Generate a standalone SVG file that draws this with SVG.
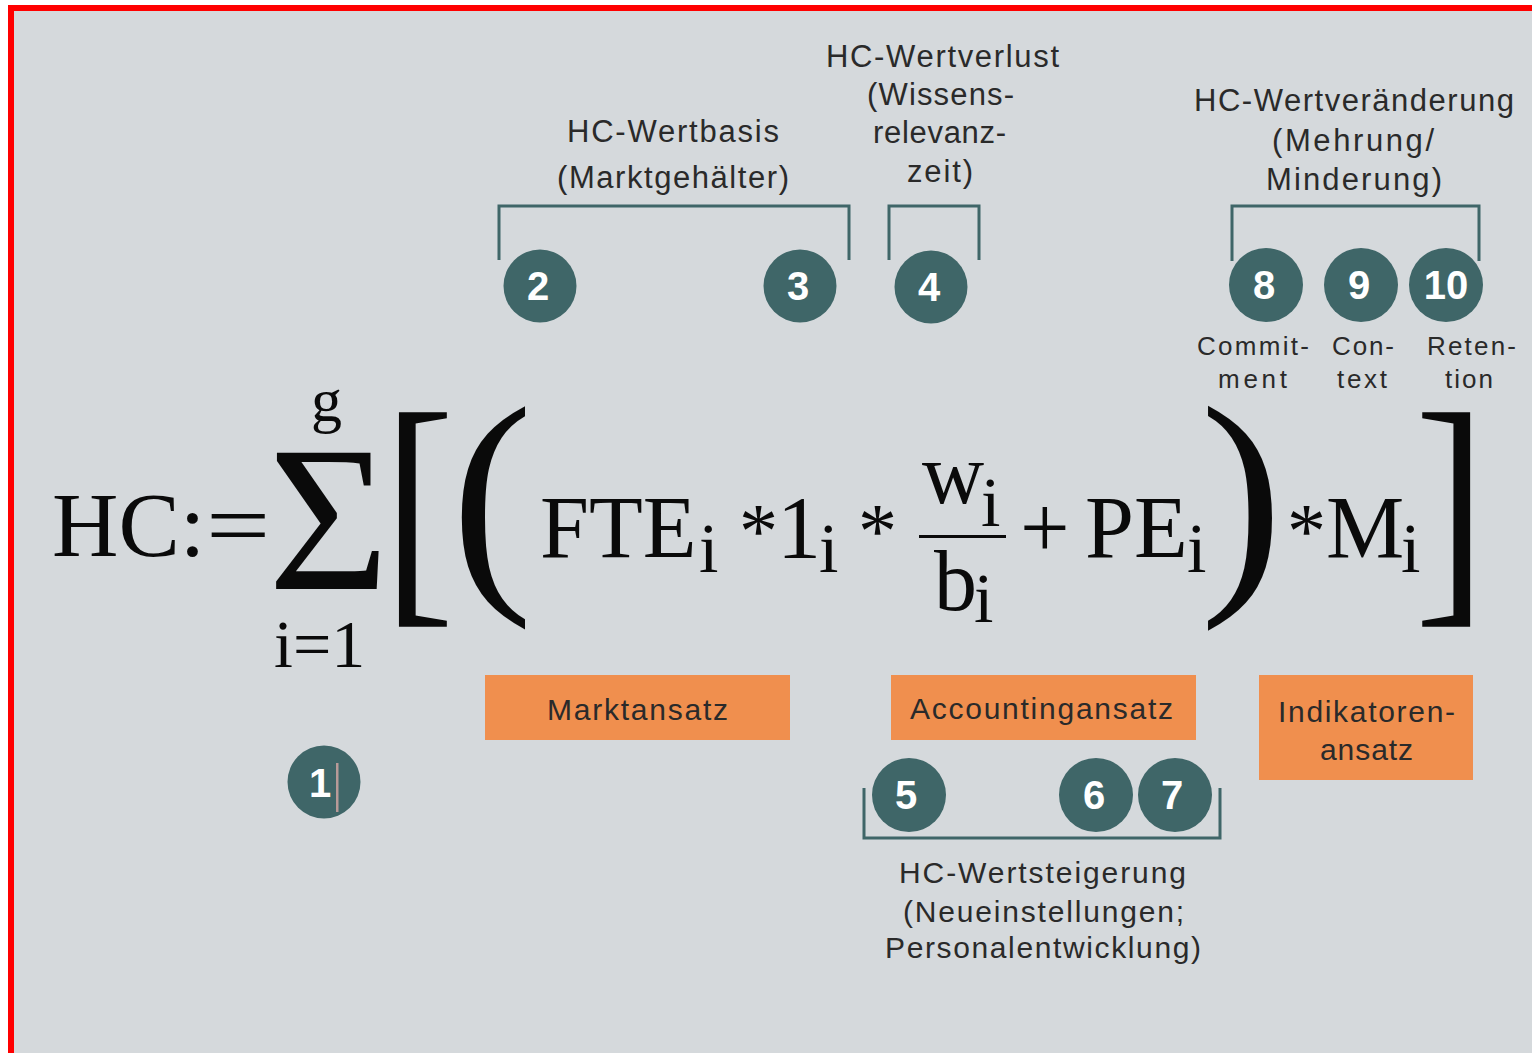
<svg xmlns="http://www.w3.org/2000/svg" width="1532" height="1053" viewBox="0 0 1532 1053">
<style>
.bg{fill:#d5d9dc}
.br{fill:none;stroke:#3f6668;stroke-width:3}
.dot{fill:#3f6668}
.num{font-family:"Liberation Sans",Arial,sans-serif;font-weight:bold;font-size:40px;fill:#ffffff;text-anchor:middle}
.lab{font-family:"Liberation Sans",Arial,sans-serif;font-size:31px;fill:#2a2a2a}
.sm{font-size:26px}
.md{font-size:30px}
.box{fill:#f08f4e}
.m{font-family:"Liberation Serif","Times New Roman",serif;fill:#0a0a0a}
.m88{font-size:88px}
.m86{font-size:86px}
.ast{font-size:78px}
.sub{font-size:70px}
</style>
<rect x="0" y="0" width="1532" height="1053" fill="#ffffff"/>
<rect x="8" y="5" width="1524" height="1048" fill="#ff0000"/>
<rect class="bg" x="14" y="11" width="1518" height="1042"/>

<g id="connectors">
<path class="br" d="M499,260 V206 H849 V260"/>
<path class="br" d="M889,260 V206 H979 V260"/>
<path class="br" d="M1232,261 V206 H1479 V261"/>
<path class="br" d="M864,788 V838 H1220 V788"/>
</g>

<g id="label-wertbasis">
<text class="lab" x="567" y="142" textLength="212" lengthAdjust="spacing">HC-Wertbasis</text>
<text class="lab" x="557" y="188" textLength="232" lengthAdjust="spacing">(Marktgehälter)</text>
</g>
<g id="label-wertverlust">
<text class="lab" x="826" y="67" textLength="233" lengthAdjust="spacing">HC-Wertverlust</text>
<text class="lab" x="867" y="105" textLength="147" lengthAdjust="spacing">(Wissens-</text>
<text class="lab" x="873" y="143" textLength="133" lengthAdjust="spacing">relevanz-</text>
<text class="lab" x="907" y="182" textLength="66" lengthAdjust="spacing">zeit)</text>
</g>
<g id="label-wertveraenderung">
<text class="lab" x="1194" y="111" textLength="320" lengthAdjust="spacing">HC-Wertveränderung</text>
<text class="lab" x="1272" y="151" textLength="162" lengthAdjust="spacing">(Mehrung/</text>
<text class="lab" x="1266" y="190" textLength="176" lengthAdjust="spacing">Minderung)</text>
</g>
<g id="label-commitment">
<text class="lab sm" x="1197" y="355" textLength="112" lengthAdjust="spacing">Commit-</text>
<text class="lab sm" x="1218" y="388" textLength="69" lengthAdjust="spacing">ment</text>
</g>
<g id="label-context">
<text class="lab sm" x="1332" y="355" textLength="62" lengthAdjust="spacing">Con-</text>
<text class="lab sm" x="1337" y="388" textLength="50" lengthAdjust="spacing">text</text>
</g>
<g id="label-retention">
<text class="lab sm" x="1427" y="355" textLength="89" lengthAdjust="spacing">Reten-</text>
<text class="lab sm" x="1445" y="388" textLength="48" lengthAdjust="spacing">tion</text>
</g>
<g id="label-wertsteigerung">
<text class="lab md" x="899" y="883" textLength="287" lengthAdjust="spacing">HC-Wertsteigerung</text>
<text class="lab md" x="903" y="922" textLength="281" lengthAdjust="spacing">(Neueinstellungen;</text>
<text class="lab md" x="885" y="958" textLength="316" lengthAdjust="spacing">Personalentwicklung)</text>
</g>

<g id="node-1"><circle class="dot" cx="324" cy="782" r="36.5"/><text class="num" x="320" y="797">1</text><rect x="336" y="763" width="2.5" height="49" fill="#b89a98"/></g>
<g id="node-2"><circle class="dot" cx="540" cy="286" r="36.5"/><text class="num" x="538" y="300">2</text></g>
<g id="node-3"><circle class="dot" cx="800" cy="286" r="36.5"/><text class="num" x="798" y="300">3</text></g>
<g id="node-4"><circle class="dot" cx="931" cy="287" r="36.5"/><text class="num" x="929" y="301">4</text></g>
<g id="node-5"><circle class="dot" cx="909" cy="795" r="37"/><text class="num" x="906" y="809">5</text></g>
<g id="node-6"><circle class="dot" cx="1096" cy="795" r="37"/><text class="num" x="1094" y="809">6</text></g>
<g id="node-7"><circle class="dot" cx="1175" cy="795" r="37"/><text class="num" x="1172" y="809">7</text></g>
<g id="node-8"><circle class="dot" cx="1266" cy="285" r="37"/><text class="num" x="1264" y="299">8</text></g>
<g id="node-9"><circle class="dot" cx="1361" cy="285" r="37"/><text class="num" x="1359" y="299">9</text></g>
<g id="node-10"><circle class="dot" cx="1446" cy="285" r="37"/><text class="num" x="1446" y="299">10</text></g>

<g id="box-markt"><rect class="box" x="485" y="675" width="305" height="65"/><text class="lab md" x="547" y="720" textLength="181" lengthAdjust="spacing">Marktansatz</text></g>
<g id="box-accounting"><rect class="box" x="891" y="675" width="305" height="65"/><text class="lab md" x="910" y="719" textLength="263" lengthAdjust="spacing">Accountingansatz</text></g>
<g id="box-indikatoren"><rect class="box" x="1259" y="675" width="214" height="105"/><text class="lab md" x="1278" y="722" textLength="177" lengthAdjust="spacing">Indikatoren-</text><text class="lab md" x="1320" y="760" textLength="93" lengthAdjust="spacing">ansatz</text></g>

<g id="formula" class="m">
<text x="52" y="556" font-size="92">HC:</text>
<text transform="translate(206,556) scale(1.24,1)" font-size="92">=</text>
<text transform="translate(268,589)" font-size="208">Σ</text>
<text x="311" y="421" font-size="62">g</text>
<text x="274" y="667" font-size="68">i=1</text>
<text transform="translate(383,592) scale(0.83,1)" font-size="259">[</text>
<text x="451" y="577" font-size="246">(</text>
<text class="m88" x="540" y="557">FTE</text>
<text class="sub" x="699" y="572">i</text>
<text class="ast" x="739" y="557">*</text>
<text class="m88" x="777" y="557">1</text>
<text class="sub" x="819" y="572">i</text>
<text class="ast" x="858" y="557">*</text>
<text class="m86" x="922" y="503">w</text>
<text class="sub" x="981" y="526">i</text>
<rect x="919" y="535" width="87" height="3" fill="#0a0a0a"/>
<text class="m86" x="934" y="610">b</text>
<text class="sub" x="974" y="622">i</text>
<text class="m88" x="1020" y="557">+</text>
<text class="m88" x="1085" y="557">PE</text>
<text class="sub" x="1187" y="572">i</text>
<text x="1200" y="578" font-size="249">)</text>
<text class="ast" x="1287" y="557">*</text>
<text class="m88" x="1326" y="557">M</text>
<text class="sub" x="1401" y="572">i</text>
<text transform="translate(1414.5,592) scale(0.83,1)" font-size="259">]</text>
</g>
</svg>
